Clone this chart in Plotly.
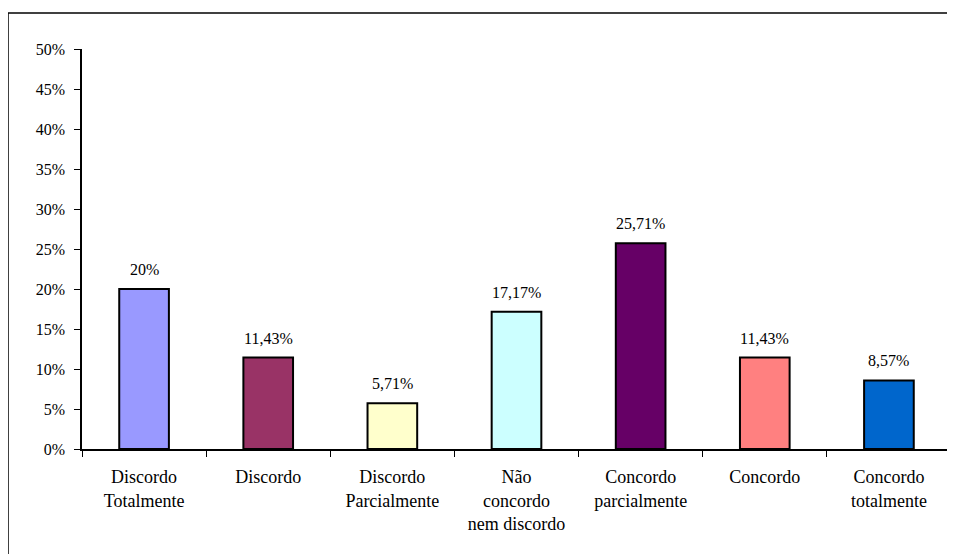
import plotly.graph_objects as go

categories = ["Discordo<br>Totalmente", "Discordo", "Discordo<br>Parcialmente",
              "Não<br>concordo<br>nem discordo", "Concordo<br>parcialmente",
              "Concordo", "Concordo<br>totalmente"]
values = [20, 11.43, 5.71, 17.17, 25.71, 11.43, 8.57]
value_labels = ["20%", "11,43%", "5,71%", "17,17%", "25,71%", "11,43%", "8,57%"]
colors = ["#9999FF", "#993366", "#FFFFCC", "#CCFFFF", "#660066", "#FF8080", "#0066CC"]
y_ticks = [0, 5, 10, 15, 20, 25, 30, 35, 40, 45, 50]
y_tick_labels = [f"{v}%" for v in y_ticks]

FONT = "Liberation Serif, Times New Roman, serif"

fig = go.Figure()
fig.add_trace(go.Bar(
    x=categories, y=values,
    marker=dict(color=colors, line=dict(color="black", width=2)),
    width=0.4, hoverinfo="skip",
))

for c, v, t in zip(categories, values, value_labels):
    fig.add_annotation(x=c, y=v, text=t, showarrow=False, yanchor="bottom",
                       yshift=9, font=dict(family=FONT, size=16, color="black"))

bx0 = (0 - 74) / 869
by1 = (449 - 13) / 400
fig.add_shape(type="line", xref="paper", yref="paper",
              x0=bx0, x1=bx0, y0=-0.40, y1=by1,
              line=dict(color="black", width=1.5), layer="below")
fig.add_shape(type="line", xref="paper", yref="paper",
              x0=bx0, x1=1.10, y0=by1, y1=by1,
              line=dict(color="black", width=1.5), layer="below")

fig.update_layout(
    width=947, height=546,
    margin=dict(l=74, r=4, t=41, b=105),
    paper_bgcolor="white", plot_bgcolor="white",
    showlegend=False,
    font=dict(family=FONT, size=15, color="black"),
    xaxis=dict(showline=True, linecolor="black", linewidth=1.5,
               ticks="outside", tickson="boundaries", ticklen=6, tickcolor="black",
               tickfont=dict(family=FONT, size=18), showgrid=False,
               range=[-0.5, 6.5], ticklabelstandoff=11),
    yaxis=dict(range=[0, 50], tickvals=y_ticks, ticktext=y_tick_labels,
               showline=True, linecolor="black", linewidth=1.5,
               ticks="outside", ticklen=6, tickcolor="black",
               tickfont=dict(family=FONT, size=16), showgrid=False, zeroline=False,
               ticklabelstandoff=6),
)

fig.write_html("out.html")
